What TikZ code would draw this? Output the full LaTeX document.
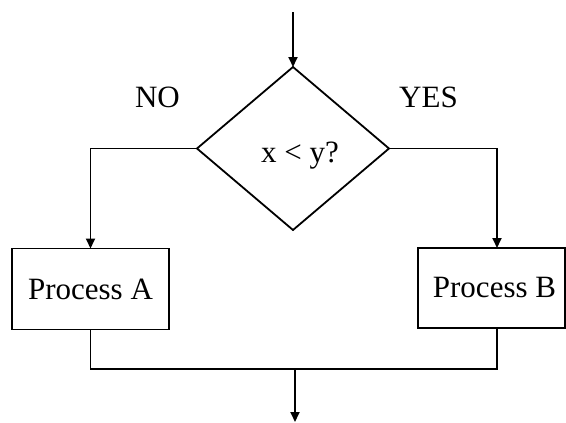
\documentclass[tikz,border=0pt]{standalone}
\usepackage{fontspec}
\setmainfont{Liberation Serif}
\usetikzlibrary{shapes.geometric,arrows.meta}
\begin{document}
\begin{tikzpicture}[x=1pt,y=-1pt,
  line width=1.8pt,
  arr/.style={-{Triangle[length=10pt,width=9pt]}},
  bigtext/.style={font=\fontsize{31}{37}\selectfont},
  procbox/.style={draw, bigtext, inner sep=0pt, outer sep=0pt},
  lbl/.style={bigtext, inner sep=0pt}]
\useasboundingbox (0,0) rectangle (566,423);
\coordinate (start) at (293,12);
\node[draw, diamond, aspect=1.178, minimum width=192pt, minimum height=163pt, inner sep=0pt, outer sep=0pt] (dec) at (293,148.5) {};
\node[lbl, anchor=base] (cond) at (300,162) {x < y?};
\node[procbox, minimum width=157pt, minimum height=81pt] (boxA) at (90.5,289) {Process A};
\node[procbox, minimum width=147pt, minimum height=80pt] (boxB) at (491.5,288) {\hspace*{6pt}Process B};
\node[lbl, anchor=base] (no) at (157.5,107) {NO};
\node[lbl, anchor=base] (yes) at (428.5,107) {YES};
\coordinate (join) at (295,369);
\coordinate (end) at (295,422);
\draw[arr] (start) -- (dec.north);
\draw[arr] (dec.west) -| (boxA.north);
\draw[arr] (dec.east) -| ([xshift=5.5pt]boxB.north);
\draw (boxA.south) |- (join) -| ([xshift=5.5pt]boxB.south);
\draw[arr] (join) -- (end);
\end{tikzpicture}
\end{document}
